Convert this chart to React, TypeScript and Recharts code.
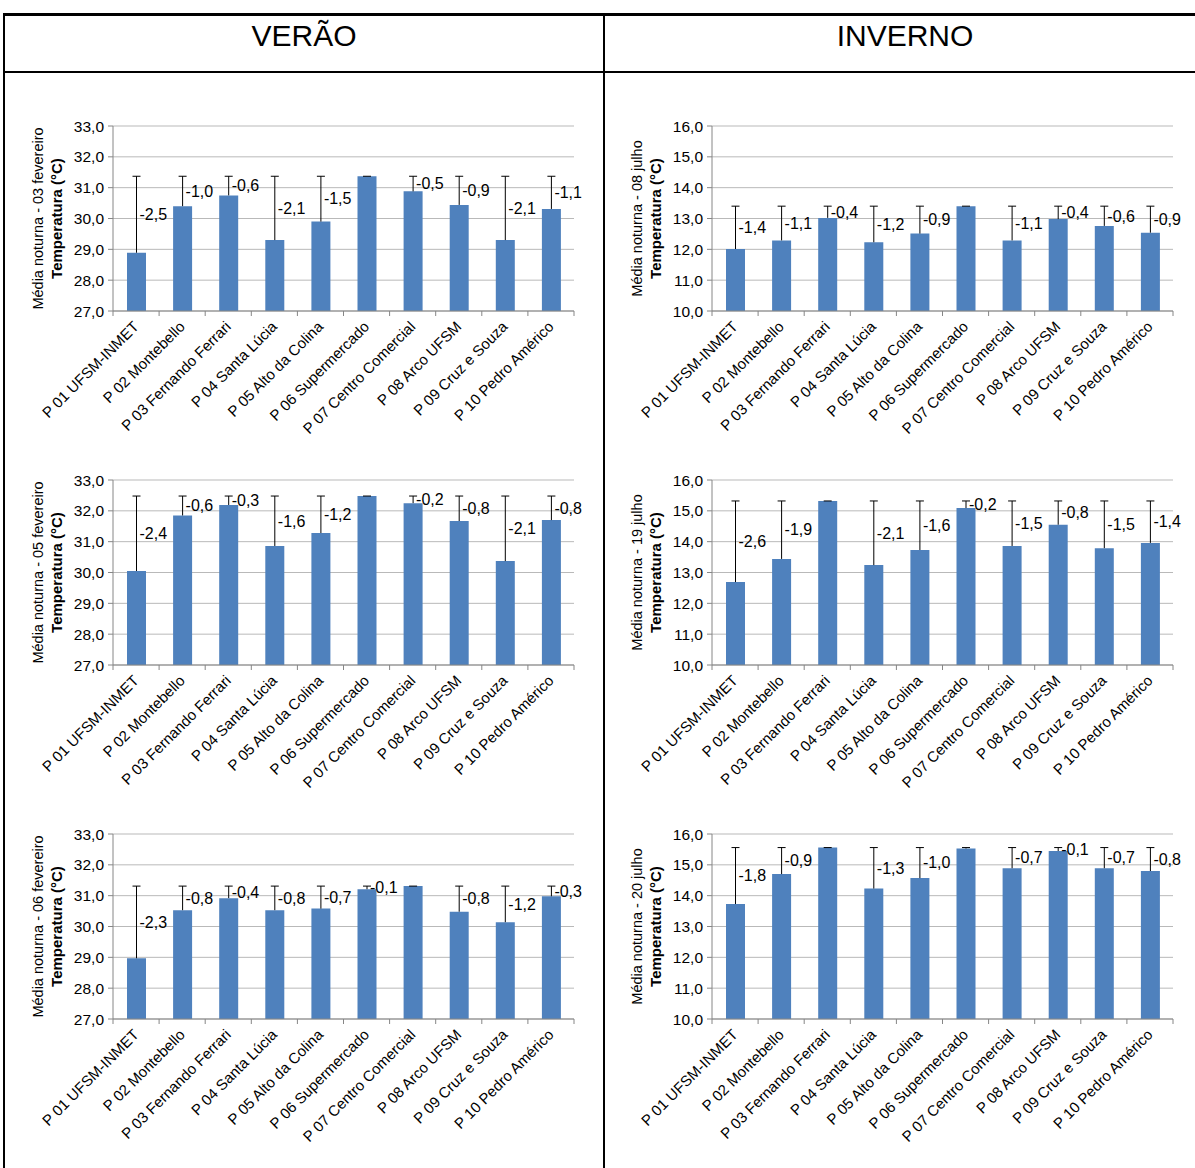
import React from "react";
import { BarChart, Bar, XAxis, YAxis, CartesianGrid, LabelList } from "recharts";

const stations = [
  "P 01 UFSM-INMET",
  "P 02 Montebello",
  "P 03 Fernando Ferrari",
  "P 04 Santa Lúcia",
  "P 05 Alto da Colina",
  "P 06 Supermercado",
  "P 07 Centro Comercial",
  "P 08 Arco UFSM",
  "P 09 Cruz e Souza",
  "P 10 Pedro Américo",
];

// nightly mean temperature (°C) per station
const fev03 = [28.89, 30.4, 30.75, 29.3, 29.9, 31.37, 30.88, 30.44, 29.3, 30.31];
const fev05 = [30.05, 31.85, 32.19, 30.86, 31.28, 32.48, 32.25, 31.67, 30.37, 31.7];
const fev06 = [28.97, 30.53, 30.92, 30.53, 30.58, 31.21, 31.31, 30.48, 30.14, 30.98];
const jul08 = [12.01, 12.29, 13.02, 12.23, 12.51, 13.4, 12.29, 12.98, 12.76, 12.54];
const jul19 = [12.69, 13.44, 15.32, 13.24, 13.73, 15.09, 13.86, 14.55, 13.79, 13.96];
const jul20 = [13.73, 14.7, 15.56, 14.23, 14.57, 15.53, 14.89, 15.45, 14.89, 14.8];

const summerTicks = [27, 28, 29, 30, 31, 32, 33];
const winterTicks = [10, 11, 12, 13, 14, 15, 16];

const FONT = "'Liberation Sans', Arial, sans-serif";
const BAR_COLOR = "#4f81bd";
const AXIS_COLOR = "#868686";
const GRID_COLOR = "#b9b9b9";

const CHART_W = 580;
const CHART_H = 340;
const Y_AXIS_W = 103;
const MARGIN = { top: 26, right: 16, bottom: 9, left: 0 };
const PLOT_W = CHART_W - Y_AXIS_W - MARGIN.right;

const fmt = (v: number) => v.toFixed(1).replace(".", ",");

type ChartProps = {
  values: number[];
  ticks: number[];
  subtitle: string;
  left: number;
  top: number;
};

const StationTick = (props: any) => {
  const { x, y, payload, index } = props;
  const band = PLOT_W / stations.length;
  return (
    <g>
      <line x1={x - band / 2} y1={y} x2={x - band / 2} y2={y + 5} stroke={AXIS_COLOR} />
      {index === stations.length - 1 && (
        <line x1={x + band / 2} y1={y} x2={x + band / 2} y2={y + 5} stroke={AXIS_COLOR} />
      )}
      <g transform={`translate(${x - 4}, ${y + 9}) rotate(-45)`}>
        <text x={0} y={0} dy="0.72em" textAnchor="end" fontSize={15} fill="#000" fontFamily={FONT}>
          {payload.value}
        </text>
      </g>
    </g>
  );
};

const TempChart = ({ values, ticks, subtitle, left, top }: ChartProps) => {
  const max = Math.max(...values);
  const yMin = ticks[0];
  const data = stations.map((name, i) => ({
    name,
    temp: values[i],
    gap: max - values[i],
    diff: values[i] - max,
  }));

  // error bar from bar top up to the warmest station, with the difference written beside it
  const renderGap = (p: any) => {
    const { x, y, width, height, index } = p;
    const row = data[index];
    const pxPerUnit = height / (row.temp - yMin);
    const errTop = y - row.gap * pxPerUnit;
    const cx = x + width / 2;
    const txt = fmt(row.diff);
    return (
      <g>
        <line x1={cx} y1={y} x2={cx} y2={errTop} stroke="#000" strokeWidth={1} />
        <line x1={cx - 4} y1={errTop} x2={cx + 4} y2={errTop} stroke="#000" strokeWidth={1} />
        {txt !== "-0,0" && txt !== "0,0" && (
          <text
            x={cx + 3}
            y={(y + errTop) / 2}
            dominantBaseline="central"
            fontSize={16}
            fill="#000"
            fontFamily={FONT}
          >
            {txt}
          </text>
        )}
      </g>
    );
  };

  const renderTitle = (p: any) => {
    const vb = p.viewBox;
    const cy = vb.y + vb.height / 2;
    return (
      <g fontFamily={FONT} fill="#000">
        <text
          x={28}
          y={cy}
          transform={`rotate(-90, 28, ${cy})`}
          textAnchor="middle"
          dominantBaseline="central"
          fontSize={14.5}
        >
          {subtitle}
        </text>
        <text
          x={46}
          y={cy}
          transform={`rotate(-90, 46, ${cy})`}
          textAnchor="middle"
          dominantBaseline="central"
          fontSize={15}
          fontWeight="bold"
        >
          Temperatura (°C)
        </text>
      </g>
    );
  };

  return (
    <div style={{ position: "absolute", left, top }}>
      <BarChart width={CHART_W} height={CHART_H} data={data} margin={MARGIN}>
        <CartesianGrid vertical={false} stroke={GRID_COLOR} />
        <XAxis
          dataKey="name"
          interval={0}
          height={120}
          tickSize={0}
          tickMargin={0}
          tickLine={false}
          axisLine={{ stroke: AXIS_COLOR }}
          tick={<StationTick />}
        />
        <YAxis
          width={Y_AXIS_W}
          domain={[ticks[0], ticks[ticks.length - 1]]}
          ticks={ticks}
          interval={0}
          tickFormatter={fmt}
          tickSize={5}
          tickMargin={4}
          tickLine={{ stroke: AXIS_COLOR }}
          axisLine={{ stroke: AXIS_COLOR }}
          tick={{ fill: "#000", fontSize: 15.5, fontFamily: FONT }}
          label={{ content: renderTitle }}
        />
        <Bar dataKey="temp" fill={BAR_COLOR} barSize={19} isAnimationActive={false}>
          <LabelList dataKey="temp" content={renderGap} />
        </Bar>
      </BarChart>
    </div>
  );
};

const App = () => {
  return (
    <div
      style={{
        position: "absolute",
        left: 0,
        top: 0,
        width: 1195,
        height: 1168,
        background: "#fff",
        overflow: "hidden",
        fontFamily: FONT,
      }}
    >
      {/* table frame */}
      <div style={{ position: "absolute", left: 3, top: 13, width: 1192, height: 3, background: "#000" }} />
      <div style={{ position: "absolute", left: 3, top: 13, width: 2, height: 1155, background: "#000" }} />
      <div style={{ position: "absolute", left: 603, top: 13, width: 2, height: 1155, background: "#000" }} />
      <div style={{ position: "absolute", left: 3, top: 71, width: 1192, height: 2, background: "#000" }} />
      <div
        style={{ position: "absolute", left: 5, top: 16, width: 598, height: 55, lineHeight: "40px", textAlign: "center", fontSize: 30 }}
      >
        VERÃO
      </div>
      <div
        style={{ position: "absolute", left: 605, top: 16, width: 600, height: 55, lineHeight: "40px", textAlign: "center", fontSize: 30 }}
      >
        INVERNO
      </div>

      <TempChart values={fev03} ticks={summerTicks} subtitle="Média noturna - 03 fevereiro" left={10} top={100} />
      <TempChart values={fev05} ticks={summerTicks} subtitle="Média noturna - 05 fevereiro" left={10} top={454} />
      <TempChart values={fev06} ticks={summerTicks} subtitle="Média noturna - 06 fevereiro" left={10} top={808} />
      <TempChart values={jul08} ticks={winterTicks} subtitle="Média noturna - 08 julho" left={609} top={100} />
      <TempChart values={jul19} ticks={winterTicks} subtitle="Média noturna - 19 julho" left={609} top={454} />
      <TempChart values={jul20} ticks={winterTicks} subtitle="Média noturna - 20 julho" left={609} top={808} />
    </div>
  );
};

export default App;
